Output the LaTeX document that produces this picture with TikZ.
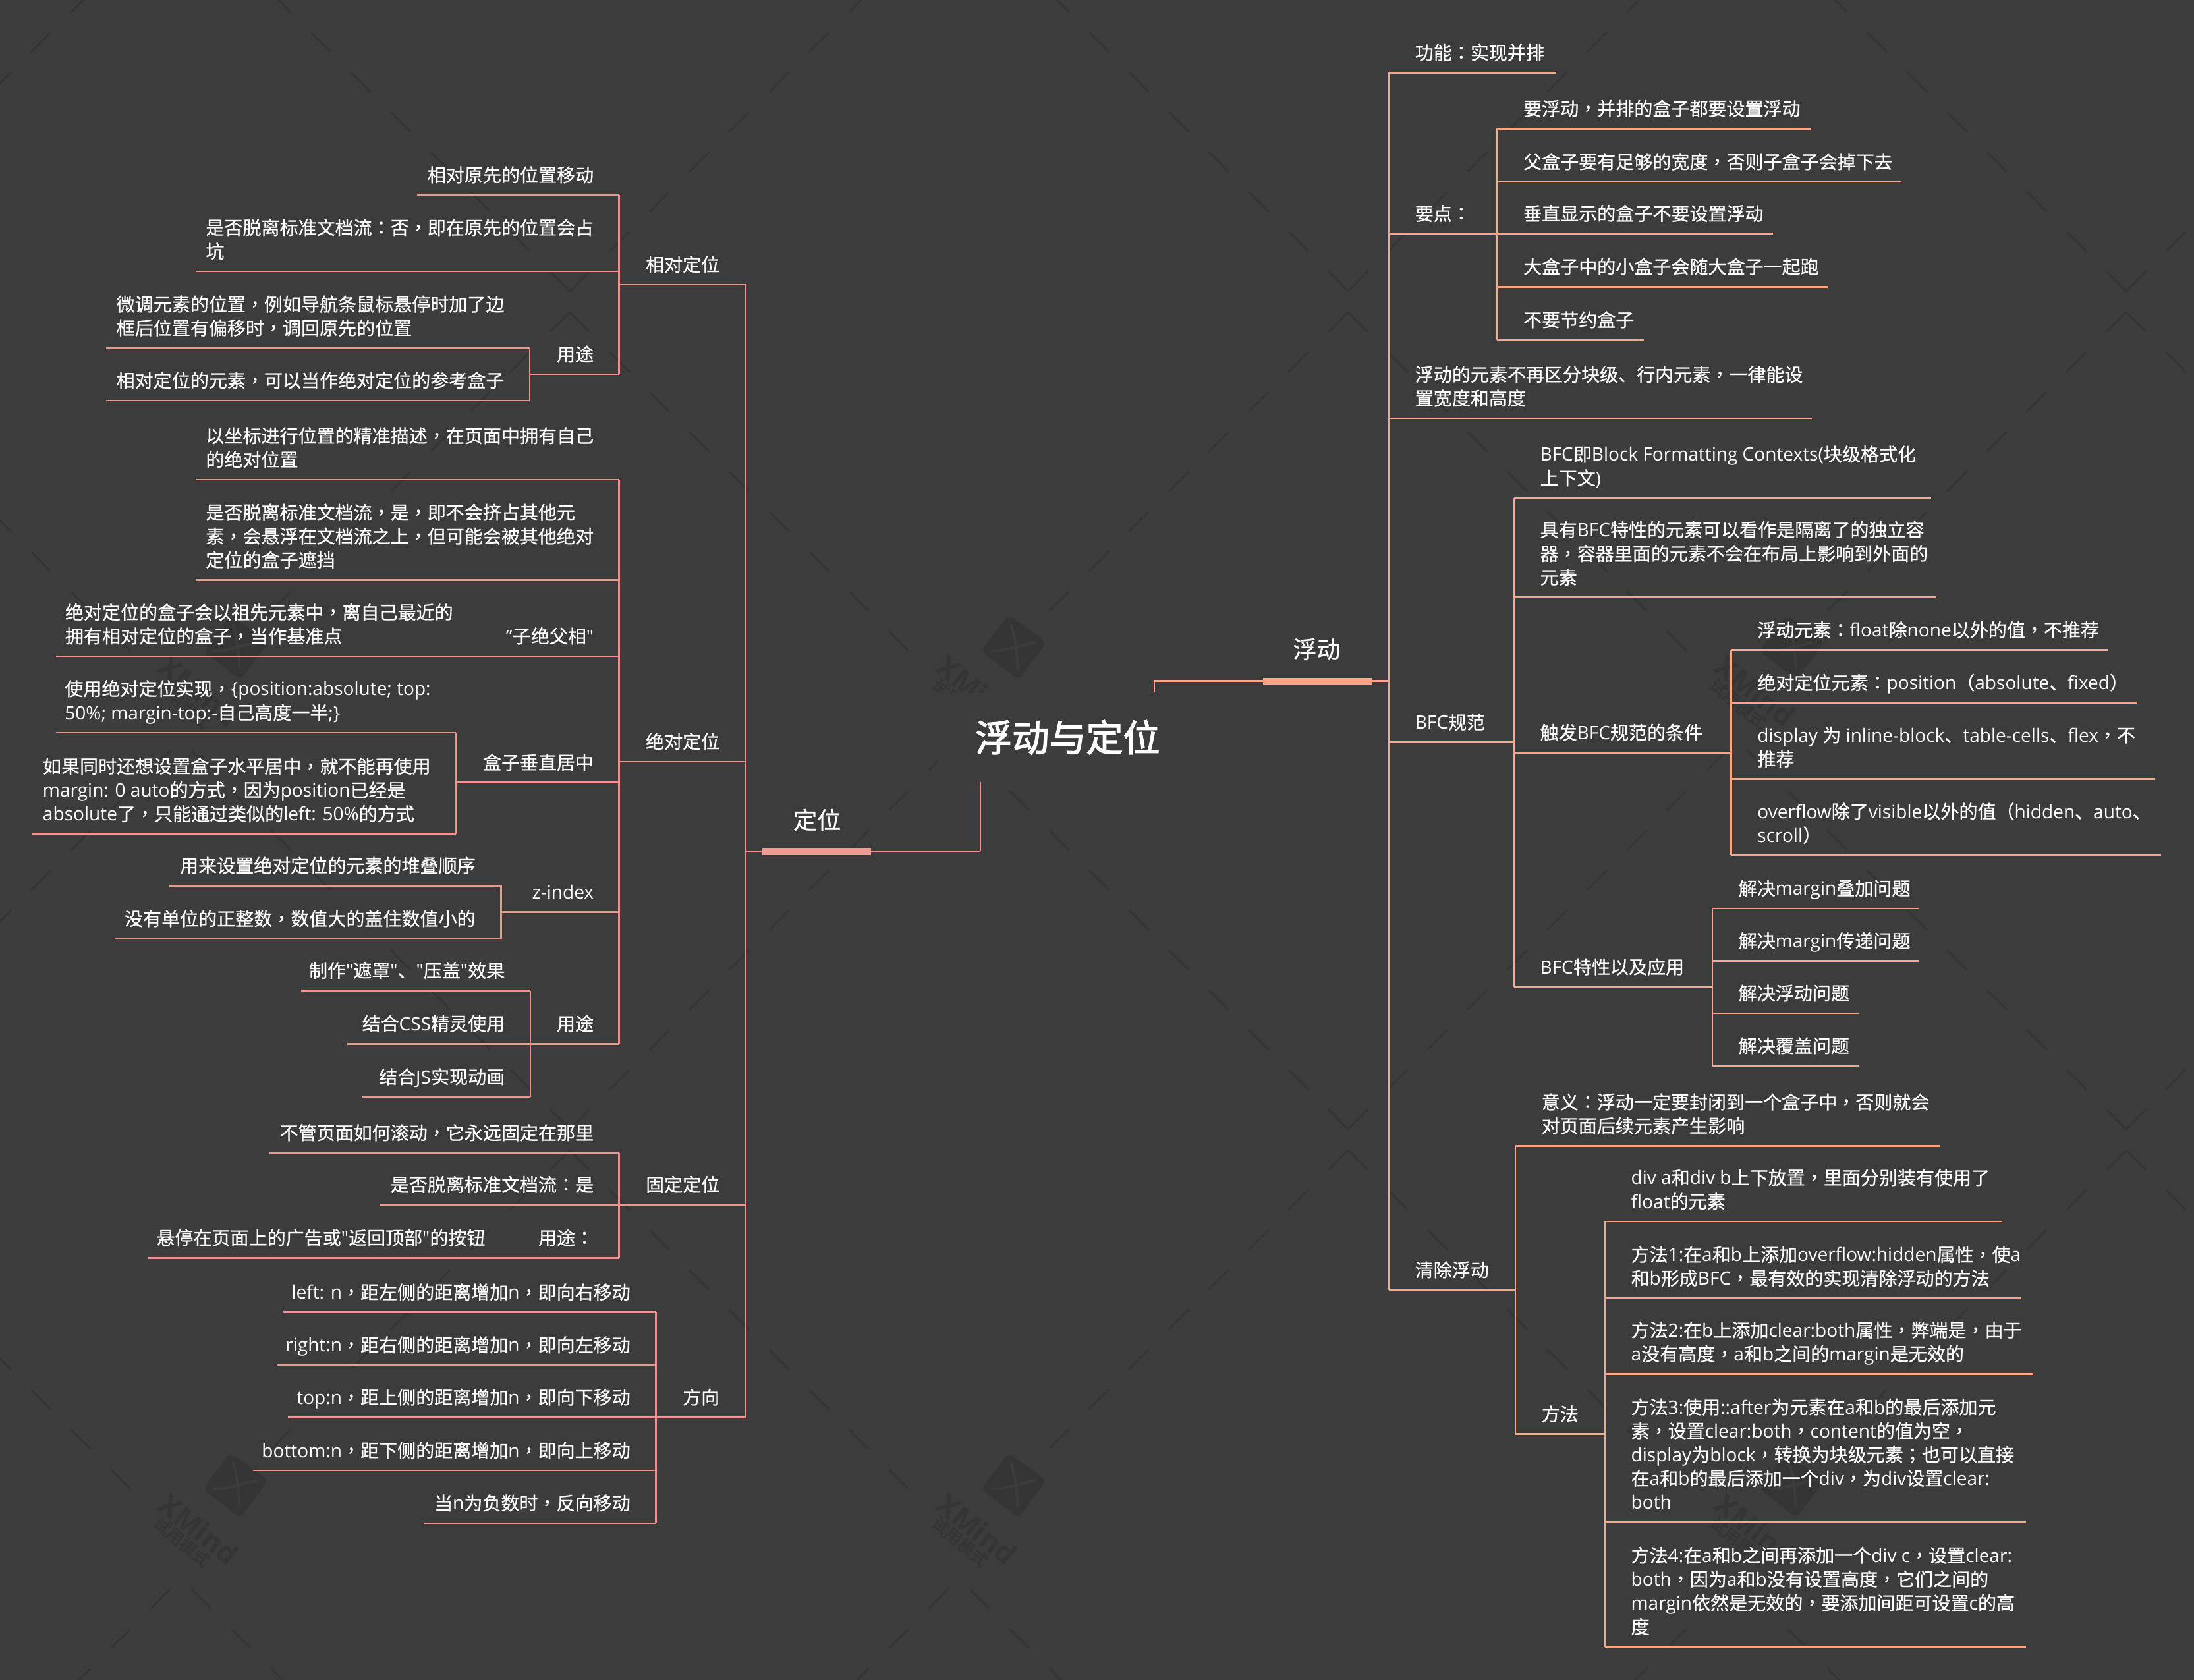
\documentclass[tikz,border=0pt]{standalone}
\usepackage{fontspec}
\usetikzlibrary{calc}
\setmainfont{Open Sans}
\newfontfamily\latf{Open Sans}
\newfontfamily\cjkf[FakeBold=0.6]{Noto Sans CJK SC}
\newfontfamily\tcf[FakeBold=0.6]{Noto Sans CJK TC}
\newfontfamily\titlef[FakeBold=2.4]{Noto Sans CJK SC}
\newcommand{\rootfont}{\XeTeXinterchartokenstate=0\relax\fontsize{26.4}{30}\titlef}
\newXeTeXintercharclass\clsC
\newXeTeXintercharclass\clsP
\makeatletter
\count@="3000
\loop\ifnum\count@<"A000
  \XeTeXcharclass\count@=\clsC
  \advance\count@ by 1
\repeat
\count@="FF00
\loop\ifnum\count@<"FFF0
  \XeTeXcharclass\count@=\clsC
  \advance\count@ by 1
\repeat
\makeatother
\XeTeXcharclass`，=\clsP
\XeTeXcharclass`：=\clsP
\XeTeXcharclass`；=\clsP
\XeTeXcharclass`（=\clsP
\XeTeXcharclass`）=\clsP
\XeTeXinterchartoks 0 \clsC={\cjkf}
\XeTeXinterchartoks \clsP \clsC={\cjkf}
\XeTeXinterchartoks 4095 \clsC={\cjkf}
\XeTeXinterchartoks 0 \clsP={\tcf}
\XeTeXinterchartoks \clsC \clsP={\tcf}
\XeTeXinterchartoks 4095 \clsP={\tcf}
\XeTeXinterchartoks \clsC 0={\latf}
\XeTeXinterchartoks \clsP 0={\latf}
\XeTeXinterchartoks \clsC 4095={\latf}
\XeTeXinterchartoks \clsP 4095={\latf}
\XeTeXinterchartokenstate=1
\definecolor{bgc}{HTML}{3C3C3C}
\definecolor{wmc}{HTML}{353535}
\definecolor{pinkc}{HTML}{F09490}
\definecolor{salmc}{HTML}{FFA688}
\tikzset{
  rline/.style={draw=salmc,line width=1.3pt,line join=miter},
  lline/.style={draw=pinkc,line width=1.3pt,line join=miter},
  ttext/.style={text=white,inner sep=0pt,align=left,font=\fontsize{13.2}{17}\selectfont},
  rtext/.style={ttext,anchor=south west},
  ltext/.style={ttext,anchor=south east},
  maintext/.style={text=white,inner sep=0pt,font=\fontsize{17}{20}\selectfont},
  roottext/.style={text=white,fill=bgc,inner sep=0pt,minimum width=186pt,minimum height=63.5pt,font=\rootfont},
  wmline/.style={draw=wmc,line width=1.2pt},
}
\newcommand{\dep}{\rule[-3.6pt]{0pt}{3.6pt}}
% name, x left, x right, y of the rule, text
\newcommand{\RT}[5]{%
  \coordinate (#1-l) at (#2,#4);
  \coordinate (#1-r) at (#3,#4);
  \node[rtext] (#1) at (#2+18.5,#4-5.6) {#5\dep};
  \draw[rline] (#1-l) -- (#1-r);
}
\newcommand{\LT}[5]{%
  \coordinate (#1-l) at (#2,#4);
  \coordinate (#1-r) at (#3,#4);
  \node[ltext] (#1) at (#3-18,#4-5.6) {#5\dep};
  \draw[lline] (#1-l) -- (#1-r);
}
\newcommand{\RB}[2]{\foreach \cc in {#2}{\draw[rline] (#1-r) |- (\cc-l);}}
\newcommand{\LB}[2]{\foreach \cc in {#2}{\draw[lline] (#1-l) |- (\cc-r);}}
\begin{document}
\begin{tikzpicture}[x=1pt,y=-1pt]
\useasboundingbox (0,0) rectangle (1568,1200.68);
\fill[bgc] (0,0) rectangle (1568,1200.68);
% watermark
\begin{scope}
\clip (0,0) rectangle (1568,1200.68);
\begin{scope}[x=0.47087pt,y=-0.47087pt]
\foreach \k in {-1,0,1,2}{
 \foreach \m in {-1,0,1,2}{
  \pgfmathsetmacro\vx{865+1181*\k}
  \pgfmathsetmacro\vy{442+1272*\m}
  \foreach \i in {0,...,9}{
   \pgfmathsetmacro\aa{60.5*\i}
   \draw[wmline] (\vx-\aa,\vy-\aa) -- ++(-30,-30);
   \draw[wmline] (\vx+\aa,\vy-\aa) -- ++(30,-30);
   \ifnum\i<8
   \draw[wmline] (\vx-\aa,\vy+32+\aa) -- ++(-30,30);
   \fi
   \ifnum\i<9
   \draw[wmline] (\vx+\aa,\vy+32+\aa) -- ++(30,30);
   \fi
  }
 }
}
\foreach \lx in {357,1538,2719}{
 \foreach \ly in {983,2255}{
  \begin{scope}[shift={(\lx,\ly)}]
   \fill[wmc,rounded corners=4pt] (-7,-50) -- (50,-8) -- (8,49) -- (-49,5) -- cycle;
   \draw[bgc,line width=1.9pt,line cap=round] (-3,-33) .. controls (3,-12) .. (7,32);
   \draw[bgc,line width=1.9pt,line cap=round] (-32,5) .. controls (-5,4) and (5,-3) .. (32,-7);
   \node[text=wmc,rotate=-39,inner sep=0pt,font=\fontsize{20.5}{21}\bfseries\selectfont] at (-55,66) {XMind};
   \node[text=wmc,rotate=-40,inner sep=0pt,font=\fontsize{12}{12}\selectfont] at (-81,85) {试用模式};
  \end{scope}
 }
}
\end{scope}
\end{scope}

% root
\node[roottext] (root) at (763,527) {浮动与定位};
\coordinate (rootL) at ($(root.south)+(-62.4,0)$);
\coordinate (rootR) at ($(root.north)+(62,0)$);

% ----- left: 定位
\LT{dw}{533}{700.6}{608.4}{}
\node[maintext] (dwt) at (584,586) {定位};
\draw[lline] (dw-r) -- (rootL);
\fill[pinkc!95!white] (545,606) rectangle (622.7,611);

\LT{xd}{442.5}{532.5}{203.4}{相对定位}
\LT{xd1}{298}{442.5}{139.4}{相对原先的位置移动}
\LT{xd2}{140}{442.5}{194}{是否脱离标准文档流：否，即在原先的位置会占\\坑}
\LT{xd3}{378.6}{442.5}{267.5}{用途}
\LT{xd31}{76}{378.6}{248.8}{微调元素的位置，例如导航条鼠标悬停时加了边\\框后位置有偏移时，调回原先的位置}
\LT{xd32}{76}{378.6}{286.3}{相对定位的元素，可以当作绝对定位的参考盒子}
\LB{xd}{xd1,xd2,xd3}
\LB{xd3}{xd31,xd32}

\LT{jd}{442.5}{532.5}{544.3}{绝对定位}
\LT{jd1}{140}{442.5}{342.8}{以坐标进行位置的精准描述，在页面中拥有自己\\的绝对位置}
\LT{jd2}{140}{442.5}{414.6}{是否脱离标准文档流，是，即不会挤占其他元\\素，会悬浮在文档流之上，但可能会被其他绝对\\定位的盒子遮挡}
\LT{jd3}{342}{442.5}{469}{"子绝父相"}
\LT{jd31}{40}{342}{469}{绝对定位的盒子会以祖先元素中，离自己最近的\\拥有相对定位的盒子，当作基准点}
\LT{jd4}{326}{442.5}{559.3}{盒子垂直居中}
\LT{jd41}{40}{326}{523.6}{使用绝对定位实现，\{position:absolute; top:\\50\%; margin-top:-自己高度一半;\}}
\LT{jd42}{23}{326}{596}{如果同时还想设置盒子水平居中，就不能再使用\\margin: 0 auto的方式，因为position已经是\\absolute了，只能通过类似的left: 50\%的方式}
\LT{jd5}{358}{442.5}{652}{z-index}
\LT{jd51}{121}{358}{633}{用来设置绝对定位的元素的堆叠顺序}
\LT{jd52}{82}{358}{671}{没有单位的正整数，数值大的盖住数值小的}
\LT{jd6}{379}{442.5}{746}{用途}
\LT{jd61}{215}{379}{708}{制作"遮罩"、"压盖"效果}
\LT{jd62}{248}{379}{746}{结合CSS精灵使用}
\LT{jd63}{259}{379}{784}{结合JS实现动画}
\LB{jd}{jd1,jd2,jd3,jd4,jd5,jd6}
\LB{jd3}{jd31}
\LB{jd4}{jd41,jd42}
\LB{jd5}{jd51,jd52}
\LB{jd6}{jd61,jd62,jd63}

\LT{gd}{442.5}{532.5}{861}{固定定位}
\LT{gd1}{192}{442.5}{824}{不管页面如何滚动，它永远固定在那里}
\LT{gd2}{271}{442.5}{861}{是否脱离标准文档流：是}
\LT{gd3}{365}{442.5}{899}{用途：}
\LT{gd31}{106}{365}{899}{悬停在页面上的广告或"返回顶部"的按钮}
\LB{gd}{gd1,gd2,gd3}
\LB{gd3}{gd31}

\LT{fx}{468.7}{532.5}{1013}{方向}
\LT{fx1}{202.5}{468.7}{937.9}{left: n，距左侧的距离增加n，即向右移动}
\LT{fx2}{198}{468.7}{975.6}{right:n，距右侧的距离增加n，即向左移动}
\LT{fx3}{205.7}{468.7}{1013}{top:n，距上侧的距离增加n，即向下移动}
\LT{fx4}{181}{468.7}{1051}{bottom:n，距下侧的距离增加n，即向上移动}
\LT{fx5}{302.6}{468.7}{1088.6}{当n为负数时，反向移动}
\LB{fx}{fx1,fx2,fx3,fx4,fx5}
\LB{dw}{xd,jd,gd,fx}

% ----- right: 浮动
\RT{fd}{825}{992.6}{486.8}{}
\node[maintext] (fdt) at (941,464) {浮动};
\draw[rline] (fd-l) -- (rootR);
\fill[salmc] (902.8,484.5) rectangle (980.4,489.3);

\RT{a1}{992.6}{1112}{52}{功能：实现并排}
\RT{a2}{992.6}{1070}{167}{要点：}
\RT{a21}{1070}{1294}{92}{要浮动，并排的盒子都要设置浮动}
\RT{a22}{1070}{1359}{130}{父盒子要有足够的宽度，否则子盒子会掉下去}
\RT{a23}{1070}{1267}{167}{垂直显示的盒子不要设置浮动}
\RT{a24}{1070}{1306}{205}{大盒子中的小盒子会随大盒子一起跑}
\RT{a25}{1070}{1175}{243}{不要节约盒子}
\RT{a3}{992.6}{1295}{299}{浮动的元素不再区分块级、行内元素，一律能设\\置宽度和高度}
\RT{a4}{992.6}{1082}{530.6}{BFC规范}
\RT{a41}{1082}{1380}{356}{BFC即Block Formatting Contexts(块级格式化\\上下文)}
\RT{a42}{1082}{1384}{427}{具有BFC特性的元素可以看作是隔离了的独立容\\器，容器里面的元素不会在布局上影响到外面的\\元素}
\RT{a43}{1082}{1237.3}{537.9}{触发BFC规范的条件}
\RT{a431}{1237.3}{1506.7}{464.6}{浮动元素：float除none以外的值，不推荐}
\RT{a432}{1237.3}{1527.5}{502.3}{绝对定位元素：position（absolute、fixed）}
\RT{a433}{1237.3}{1540.4}{556.8}{display 为 inline-block、table-cells、flex，不\\推荐}
\RT{a434}{1237.3}{1544.6}{611.3}{overflow除了visible以外的值（hidden、auto、\\scroll）}
\RT{a44}{1082}{1223.8}{705.5}{BFC特性以及应用}
\RT{a441}{1223.8}{1371}{649.3}{解决margin叠加问题}
\RT{a442}{1223.8}{1371}{686.8}{解决margin传递问题}
\RT{a443}{1223.8}{1328.4}{724.2}{解决浮动问题}
\RT{a444}{1223.8}{1328.4}{761.9}{解决覆盖问题}
\RT{a5}{992.6}{1083}{922}{清除浮动}
\RT{a51}{1083}{1386}{819}{意义：浮动一定要封闭到一个盒子中，否则就会\\对页面后续元素产生影响}
\RT{a52}{1083}{1147}{1025}{方法}
\RT{a521}{1147}{1431}{873}{div a和div b上下放置，里面分别装有使用了\\float的元素}
\RT{a522}{1147}{1444}{928}{方法1:在a和b上添加overflow:hidden属性，使a\\和b形成BFC，最有效的实现清除浮动的方法}
\RT{a523}{1147}{1453}{982}{方法2:在b上添加clear:both属性，弊端是，由于\\a没有高度，a和b之间的margin是无效的}
\RT{a524}{1147}{1448}{1088}{方法3:使用::after为元素在a和b的最后添加元\\素，设置clear:both，content的值为空，\\display为block，转换为块级元素；也可以直接\\在a和b的最后添加一个div，为div设置clear:\\both}
\RT{a525}{1147}{1448}{1177}{方法4:在a和b之间再添加一个div c，设置clear:\\both，因为a和b没有设置高度，它们之间的\\margin依然是无效的，要添加间距可设置c的高\\度}
\RB{fd}{a1,a2,a3,a4,a5}
\RB{a2}{a21,a22,a23,a24,a25}
\RB{a4}{a41,a42,a43,a44}
\RB{a43}{a431,a432,a433,a434}
\RB{a44}{a441,a442,a443,a444}
\RB{a5}{a51,a52}
\RB{a52}{a521,a522,a523,a524,a525}
\end{tikzpicture}
\end{document}
